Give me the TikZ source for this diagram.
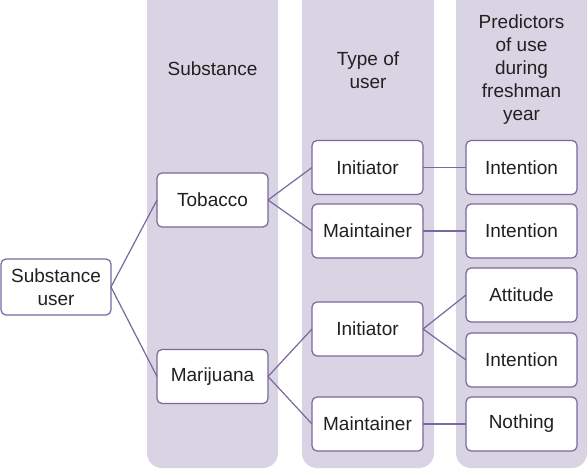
\documentclass[tikz,border=0pt]{standalone}
\usepackage{fontspec}
\setmainfont{Liberation Sans}
\definecolor{colfill}{RGB}{217,212,228}
\definecolor{edgec}{RGB}{121,104,158}
\definecolor{txt}{RGB}{35,31,32}
\begin{document}
\begin{tikzpicture}[x=1pt,y=-1pt,
  box/.style={draw=edgec, line width=1.2pt, fill=white, rounded corners=5pt,
    minimum width=111pt, minimum height=54pt, inner sep=0pt, outer sep=0pt,
    align=center, text=txt, font=\fontsize{19}{23}\selectfont},
  col/.style={fill=colfill, rounded corners=15pt},
  head/.style={align=center, text=txt, font=\fontsize{19}{23}\selectfont},
  link/.style={draw=edgec, line width=1.2pt}]
\useasboundingbox (0,0) rectangle (588,470);
\fill[col] (147,-20) rectangle (278,468);
\fill[col] (302,-20) rectangle (434,468);
\fill[col] (456,-20) rectangle (587,468);
\fill[colfill] (147,0) rectangle (278,20);
\fill[colfill] (302,0) rectangle (434,20);
\fill[colfill] (456,0) rectangle (587,20);
\node[head] (h1) at (212.5,69) {Substance};
\node[head] (h2) at (368,70) {Type of\\user};
\node[head] (h3) at (521.5,70) {Predictors\\of use\\during\\freshman\\year};
\node[box, minimum width=110pt, minimum height=56pt] (su) at (56,287) {Substance\\user};
\node[box] (tob) at (212.5,200) {Tobacco};
\node[box] (mar) at (212.5,376.5) {Marijuana};
\node[box] (in1) at (367.5,167.5) {Initiator};
\node[box] (ma1) at (367.5,231) {Maintainer};
\node[box] (in2) at (367.5,329) {Initiator};
\node[box] (ma2) at (367.5,424) {Maintainer};
\node[box] (it1) at (521.5,167.5) {Intention};
\node[box] (it2) at (521.5,231) {Intention};
\node[box] (att) at (521.5,295) {Attitude};
\node[box] (it3) at (521.5,360) {Intention};
\node[box] (not) at (521.5,424) {Nothing};
\draw[link] (su.east) -- (tob.west);
\draw[link] (su.east) -- (mar.west);
\draw[link] (tob.east) -- (in1.west);
\draw[link] (tob.east) -- (ma1.west);
\draw[link] (mar.east) -- (in2.west);
\draw[link] (mar.east) -- (ma2.west);
\draw[link] (in1.east) -- (it1.west);
\draw[link] (ma1.east) -- (it2.west);
\draw[link] (in2.east) -- (att.west);
\draw[link] (in2.east) -- (it3.west);
\draw[link] (ma2.east) -- (not.west);
\end{tikzpicture}
\end{document}
